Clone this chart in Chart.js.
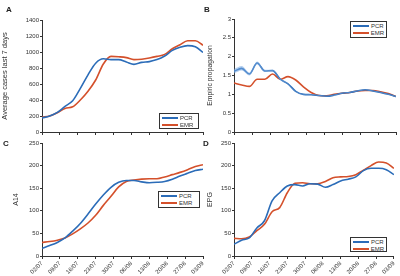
<!DOCTYPE html>
<html>
<head>
<meta charset="utf-8">
<script src="https://cdn.jsdelivr.net/npm/chart.js@4.4.0/dist/chart.umd.min.js"></script>
<style>
  body { margin: 0; background: #fff; }
  #wrap { position: relative; width: 400px; height: 276px; overflow: hidden; font-family: Arial, "Liberation Sans", sans-serif; }
  canvas { position: absolute; }
  .tag { position: absolute; font-weight: bold; font-size: 8px; color: #222; }
  .legend { position: absolute; border: 1px solid #333; background: #fff; font-size: 6px; color: #333; padding: 0 2px; box-sizing: border-box; }
  .legend div { display: flex; align-items: center; height: 7.5px; }
  .legend .ln { display: inline-block; width: 16px; height: 2px; margin-right: 2px; }
</style>
</head>
<body>
<div id="wrap">
  <canvas id="chartA" width="210" height="138" style="left:0;top:0"></canvas>
  <canvas id="chartB" width="200" height="138" style="left:200px;top:0"></canvas>
  <canvas id="chartC" width="210" height="138" style="left:0;top:138px"></canvas>
  <canvas id="chartD" width="200" height="138" style="left:200px;top:138px"></canvas>

  <div class="tag" style="left:6px;top:5px">A</div>
  <div class="tag" style="left:204px;top:5px">B</div>
  <div class="tag" style="left:3px;top:139px">C</div>
  <div class="tag" style="left:203px;top:139px">D</div>

  <div class="legend" id="legA" style="left:159px;top:113px;width:40px;height:16px"></div>
  <div class="legend" id="legB" style="left:350px;top:21px;width:37px;height:17px"></div>
  <div class="legend" id="legC" style="left:158px;top:191px;width:42px;height:17px"></div>
  <div class="legend" id="legD" style="left:350px;top:237px;width:37px;height:15px"></div>
</div>

<script>
// days since 02/07
const days = [0, 3, 6, 9, 12, 15, 18, 21, 24, 27, 30, 33, 36, 39, 42, 45, 48, 51, 54, 57, 60, 63];
const weekLabels = ['02/07', '09/07', '16/07', '23/07', '30/07', '06/08', '13/08', '20/08', '27/08', '03/09'];
const seriesNames = ['PCR', 'EMR'];

// A - average cases last 7 days
const casesPCR = [175, 200, 245, 320, 390, 545, 715, 860, 915, 905, 905, 875, 845, 870, 880, 905, 950, 1020, 1060, 1080, 1065, 995];
const casesEMR = [185, 200, 240, 295, 315, 400, 510, 650, 850, 945, 940, 930, 905, 910, 925, 945, 970, 1040, 1090, 1140, 1140, 1085];

// B - empiric propagation (with the PCR band)
const propPCR = [1.61, 1.69, 1.54, 1.83, 1.62, 1.63, 1.40, 1.28, 1.08, 1.00, 0.99, 0.97, 0.95, 0.98, 1.03, 1.05, 1.09, 1.12, 1.09, 1.05, 1.00, 0.94];
const propPCRLow = [1.55, 1.63, 1.50, 1.79, 1.59, 1.61, 1.38, 1.27, 1.07, 0.99, 0.98, 0.96, 0.94, 0.97, 1.02, 1.04, 1.08, 1.11, 1.08, 1.04, 0.99, 0.93];
const propPCRHigh = [1.67, 1.75, 1.58, 1.87, 1.65, 1.65, 1.42, 1.29, 1.09, 1.01, 1.00, 0.98, 0.96, 0.99, 1.04, 1.06, 1.10, 1.13, 1.10, 1.06, 1.01, 0.95];
const propEMR = [1.30, 1.25, 1.21, 1.40, 1.40, 1.54, 1.40, 1.47, 1.38, 1.20, 1.05, 0.97, 0.96, 1.00, 1.03, 1.05, 1.09, 1.10, 1.10, 1.07, 1.02, 0.94];

// C - A14
const a14PCR = [17, 23, 30, 40, 55, 72, 93, 115, 135, 152, 163, 167, 167, 164, 162, 163, 165, 170, 177, 183, 189, 192];
const a14EMR = [30, 32, 35, 40, 49, 60, 73, 90, 112, 132, 153, 165, 168, 170, 171, 171, 175, 180, 185, 191, 198, 202];

// D - EPG
const epgPCR = [26, 35, 40, 62, 78, 122, 140, 155, 158, 155, 160, 159, 152, 158, 166, 170, 175, 189, 194, 194, 191, 180];
const epgEMR = [39, 38, 42, 56, 70, 98, 107, 140, 161, 162, 160, 160, 165, 173, 175, 176, 180, 190, 200, 208, 206, 194];

const BLUE = '#2b6cb8';
const RED = '#d4502b';
const AXIS = '#333';

const toPoints = vals => days.map((d, i) => ({ x: d, y: vals[i] }));

function panel(id, pcr, emr, cfg) {
  const line = (label, vals, color) => ({
    label: label,
    data: toPoints(vals),
    borderColor: color,
    borderWidth: 1.6,
    pointRadius: 0,
    cubicInterpolationMode: 'monotone',
    fill: false
  });

  const datasets = [line(seriesNames[0], pcr, BLUE), line(seriesNames[1], emr, RED)];

  // light confidence band under the PCR line
  if (cfg.band) {
    datasets.unshift(
      { data: toPoints(cfg.band[0]), borderWidth: 0, pointRadius: 0, cubicInterpolationMode: 'monotone', fill: false },
      { data: toPoints(cfg.band[1]), borderWidth: 0, pointRadius: 0, cubicInterpolationMode: 'monotone', fill: '-1', backgroundColor: 'rgba(120,170,225,0.55)' }
    );
  }

  new Chart(document.getElementById(id), {
    type: 'line',
    data: { datasets: datasets },
    options: {
      responsive: false,
      animation: false,
      layout: { padding: cfg.pad },
      plugins: { legend: { display: false }, tooltip: { enabled: false } },
      scales: {
        x: {
          type: 'linear',
          min: 0,
          max: 63,
          ticks: {
            stepSize: 7,
            autoSkip: false,
            minRotation: cfg.dates ? 45 : 0,
            maxRotation: cfg.dates ? 45 : 0,
            padding: 1,
            color: AXIS,
            font: { size: 6, family: 'Arial' },
            callback: v => cfg.dates ? weekLabels[Math.round(v / 7)] : ''
          },
          grid: { drawOnChartArea: false, color: AXIS, tickLength: 3 },
          border: { color: AXIS },
          afterFit: s => { s.height = cfg.xh; }
        },
        y: {
          min: 0,
          max: cfg.max,
          ticks: {
            stepSize: cfg.step,
            padding: 1,
            color: AXIS,
            font: { size: 6, family: 'Arial' },
            callback: v => String(v)
          },
          grid: { drawOnChartArea: false, color: AXIS, tickLength: 2 },
          border: { color: AXIS },
          title: {
            display: true,
            text: cfg.title,
            color: AXIS,
            padding: 0,
            font: { size: cfg.titleSize, family: 'Arial' }
          },
          afterFit: s => { s.width = cfg.yw; }
        }
      }
    }
  });
}

panel('chartA', casesPCR, casesEMR, {
  max: 1400, step: 200, title: 'Average cases last 7 days', titleSize: 7.5,
  dates: false, xh: 6, yw: 42, pad: { left: 0, right: 7, top: 20, bottom: 0 }
});
panel('chartB', propPCR, propEMR, {
  max: 3, step: 0.5, title: 'Empiric propagation', titleSize: 6.8,
  band: [propPCRLow, propPCRHigh],
  dates: false, xh: 6, yw: 28, pad: { left: 6, right: 4, top: 19, bottom: 0 }
});
panel('chartC', a14PCR, a14EMR, {
  max: 250, step: 50, title: 'A14', titleSize: 7,
  dates: true, xh: 20, yw: 30, pad: { left: 12, right: 7, top: 5, bottom: 0 }
});
panel('chartD', epgPCR, epgEMR, {
  max: 250, step: 50, title: 'EPG', titleSize: 7,
  dates: true, xh: 20, yw: 28, pad: { left: 6, right: 4, top: 5, bottom: 0 }
});

// legends
['legA', 'legB', 'legC', 'legD'].forEach(id => {
  const box = document.getElementById(id);
  [BLUE, RED].forEach((c, i) => {
    const row = document.createElement('div');
    row.innerHTML = '<span class="ln" style="background:' + c + '"></span>' + seriesNames[i];
    box.appendChild(row);
  });
});
</script>
</body>
</html>
